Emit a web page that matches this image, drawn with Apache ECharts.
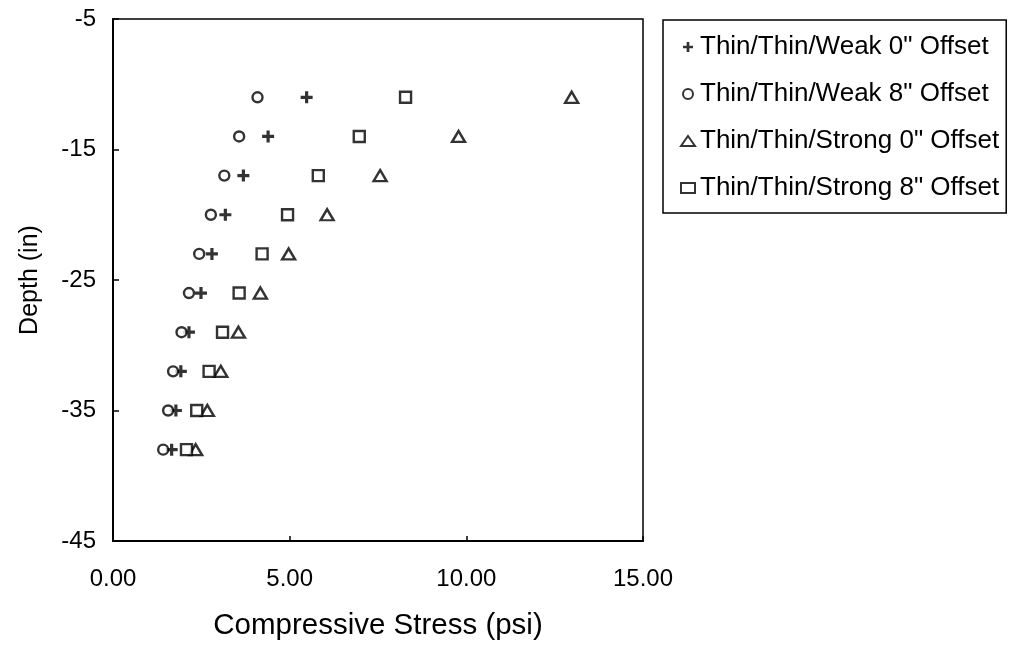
<!DOCTYPE html>
<html>
<head>
<meta charset="utf-8">
<script src="https://cdn.jsdelivr.net/npm/echarts@6/dist/echarts.min.js"></script>
<style>
  html, body { margin: 0; padding: 0; background: #fff; }
  #chart { width: 1016px; height: 649px; }
</style>
</head>
<body>
<div id="chart"></div>
<script>
// Depth of each measurement (in)
const depths = [-11, -14, -17, -20, -23, -26, -29, -32, -35, -38];

// Compressive stress (psi) at each depth
const weak0 = [5.48, 4.39, 3.69, 3.18, 2.80, 2.49, 2.15, 1.92, 1.78, 1.66];
const weak8 = [4.09, 3.57, 3.15, 2.77, 2.44, 2.15, 1.94, 1.70, 1.56, 1.42];
const strong0 = [12.98, 9.78, 7.56, 6.06, 4.97, 4.17, 3.55, 3.05, 2.67, 2.34];
const strong8 = [8.28, 6.97, 5.81, 4.94, 4.22, 3.57, 3.10, 2.72, 2.37, 2.08];

const seriesNames = [
  'Thin/Thin/Weak 0" Offset',
  'Thin/Thin/Weak 8" Offset',
  'Thin/Thin/Strong 0" Offset',
  'Thin/Thin/Strong 8" Offset'
];

// Axis tick values
const xTicks = [0, 5, 10, 15];
const yTicks = [-45, -35, -25, -15, -5];

const FONT = '"Liberation Sans", Arial, sans-serif';
const PLUS = 'path://M4.4,0H7.6V4.4H12V7.6H7.6V12H4.4V7.6H0V4.4H4.4Z';

function pairs(xs) {
  return xs.map((x, i) => [x, depths[i]]);
}

const hollow = { color: '#fff', borderColor: '#000', borderWidth: 2.4 };

const chart = echarts.init(document.getElementById('chart'), null, { renderer: 'canvas' });

chart.setOption({
  animation: false,
  backgroundColor: '#fff',
  grid: {
    left: 113, top: 19, right: 373, bottom: 108,
    show: true, borderColor: '#000', borderWidth: 1.5, backgroundColor: 'transparent'
  },
  xAxis: {
    type: 'value',
    min: 0, max: 15, interval: 5,
    name: 'Compressive Stress (psi)',
    nameLocation: 'middle',
    nameGap: 70,
    nameTextStyle: { fontFamily: FONT, fontSize: 29.5, color: '#000' },
    axisLine: { show: true, lineStyle: { color: '#000', width: 2 } },
    axisTick: { show: true, inside: true, length: 5, lineStyle: { color: '#000', width: 1.5 } },
    axisLabel: {
      fontFamily: FONT, fontSize: 24, color: '#000', margin: 26,
      customValues: xTicks,
      formatter: v => v.toFixed(2)
    },
    splitLine: { show: false }
  },
  yAxis: {
    type: 'value',
    min: -45, max: -5,
    name: 'Depth (in)',
    nameLocation: 'middle',
    nameGap: 70,
    nameTextStyle: { fontFamily: FONT, fontSize: 25, color: '#000' },
    axisLine: { show: true, lineStyle: { color: '#000', width: 2 } },
    axisTick: { show: true, inside: true, length: 6, customValues: yTicks, lineStyle: { color: '#000', width: 1.5 } },
    axisLabel: {
      fontFamily: FONT, fontSize: 24, color: '#000', margin: 17,
      customValues: yTicks
    },
    splitLine: { show: false }
  },
  legend: {
    orient: 'vertical',
    left: 663, top: 20,
    backgroundColor: '#fff',
    borderColor: '#000', borderWidth: 1.5,
    padding: [14, 7, 12, 17],
    itemWidth: 14, itemHeight: 10,
    itemGap: 21,
    selectedMode: false,
    textStyle: { fontFamily: FONT, fontSize: 26, color: '#000', lineHeight: 26 },
    data: seriesNames
  },
  series: [
    {
      name: seriesNames[0], type: 'scatter',
      symbol: PLUS, symbolSize: 12,
      itemStyle: { color: '#000', borderWidth: 0 },
      data: pairs(weak0)
    },
    {
      name: seriesNames[1], type: 'scatter',
      symbol: 'circle', symbolSize: 10,
      itemStyle: hollow,
      data: pairs(weak8)
    },
    {
      name: seriesNames[2], type: 'scatter',
      symbol: 'triangle', symbolSize: [13, 11],
      itemStyle: hollow,
      data: pairs(strong0)
    },
    {
      name: seriesNames[3], type: 'scatter',
      symbol: 'rect', symbolSize: 11,
      itemStyle: hollow,
      data: pairs(strong8)
    }
  ]
});
</script>
</body>
</html>
